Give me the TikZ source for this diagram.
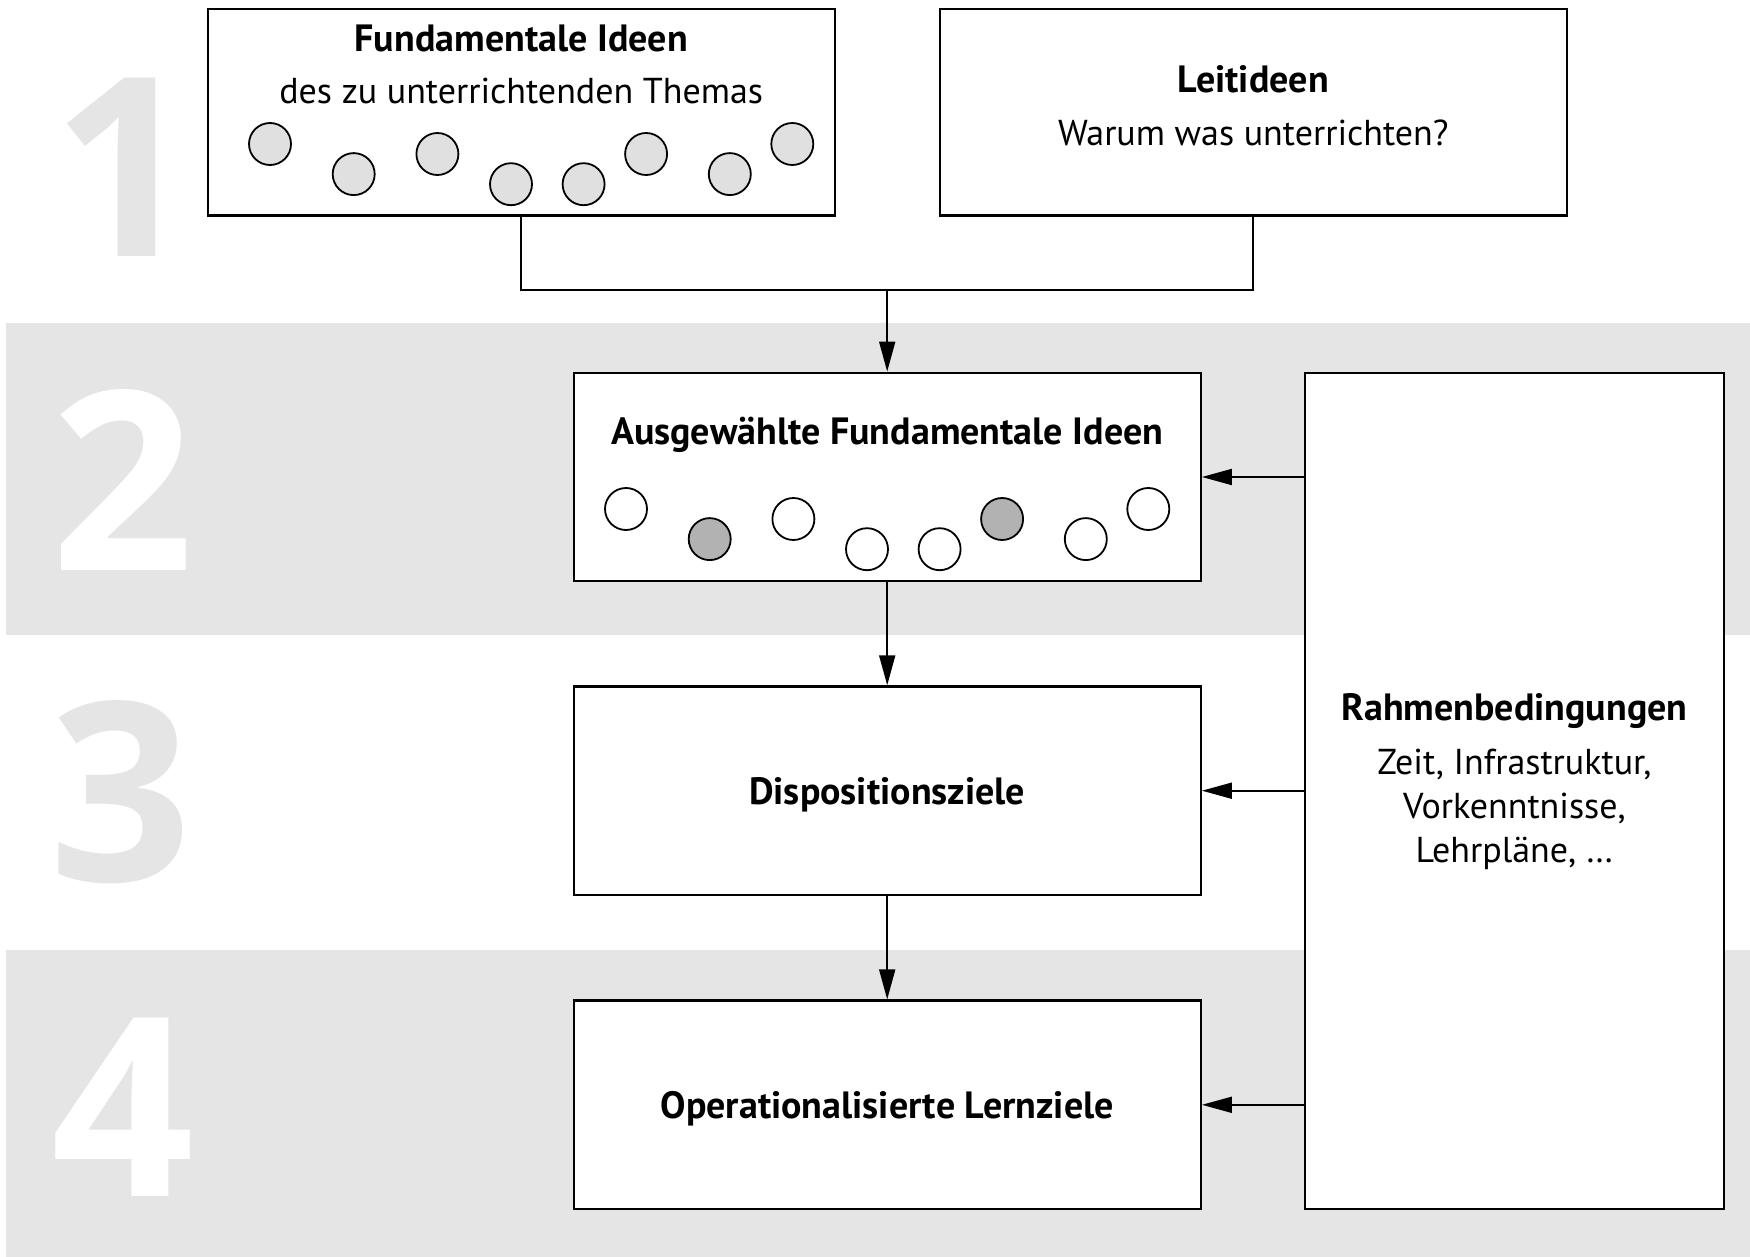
\documentclass[tikz,border=0pt]{standalone}
\usepackage{fontspec}
\setmainfont{PT Sans}
\newfontfamily\digitfont{Open Sans}
\usepackage{xcolor}
\usetikzlibrary{arrows.meta}

\definecolor{bandgrey}{HTML}{E5E5E5}
\definecolor{ideagrey}{HTML}{E0E0E0}
\definecolor{pickgrey}{HTML}{B2B2B2}

\tikzset{
  box/.style={draw, line width=1.1pt, fill=white, inner sep=0pt},
  idea/.style={circle, draw, line width=0.9pt, minimum size=21pt, inner sep=0pt},
  arr/.style={line width=0.9pt, -{Triangle[length=15pt,width=8pt]}},
  link/.style={line width=0.9pt},
  txt/.style={inner sep=0pt, anchor=mid, font=\fontsize{18}{22}\selectfont},
  boldtxt/.style={inner sep=0pt, anchor=mid, font=\fontsize{19}{22}\selectfont\bfseries},
  bigno/.style={inner sep=0pt, font=\digitfont\fontsize{125}{125}\selectfont\bfseries},
}

\begin{document}
\begin{tikzpicture}[x=0.5pt,y=0.5pt,yscale=-1,xscale=1]
        \useasboundingbox (0,0) rectangle (1750,1257);

        %Shape: Bands
        \fill [bandgrey] (5.6,322.5) rectangle (1750,635);
        \fill [bandgrey] (5.6,950) rectangle (1750,1257);

        % Step numbers
        \node [bigno, text=bandgrey] (no1) at (124,167) {1};
        \node [bigno, text=white] (no2) at (122.6,480) {2};
        \node [bigno, text=bandgrey] (no3) at (120.5,792) {3};
        \node [bigno, text=white] (no4) at (122.6,1107) {4};

        %Shape: Boxes
        \node [box, minimum width=313.6pt, minimum height=103.3pt] (fi) at (521.2,112.2) {};
        \node [box, minimum width=313.6pt, minimum height=103.3pt] (leit) at (1253.3,112.2) {};
        \node [box, minimum width=313.6pt, minimum height=104.3pt] (aus) at (887.2,477) {};
        \node [box, minimum width=313.6pt, minimum height=104.3pt] (disp) at (887.2,790.7) {};
        \node [box, minimum width=313.6pt, minimum height=104.3pt] (oper) at (887.2,1104.8) {};
        \node [box, minimum width=209.8pt, minimum height=418pt] (rahmen) at (1514.4,790.7) {};

        % Text Node
        \node [boldtxt] (fi-title) at (521.2,47) {Fundamentale Ideen};
        % Text Node
        \node [txt] (fi-sub) at (521.2,99) {des zu unterrichtenden Themas};
        % Text Node
        \node [boldtxt] (leit-title) at (1253.3,88) {Leitideen};
        % Text Node
        \node [txt] (leit-sub) at (1253.3,141) {Warum was unterrichten?};
        % Text Node
        \node [boldtxt] (aus-title) at (887.2,439) {Ausgewählte Fundamentale Ideen};
        % Text Node
        \node [boldtxt] (disp-title) at (887.2,799) {Dispositionsziele};
        % Text Node
        \node [boldtxt] (oper-title) at (887.2,1113) {Operationalisierte Lernziele};
        % Text Node
        \node [boldtxt] (rahmen-title) at (1514.4,715.6) {Rahmenbedingungen};
        % Text Node
        \node [txt, anchor=center, align=center] (rahmen-sub) at (1514.4,809) {Zeit, Infrastruktur,\\Vorkenntnisse,\\Lehrpläne, …};

        %Shape: Circles
        \foreach \dx/\dy [count=\i] in {0/0,83.7/30.1,167.4/10,241/40.2,313.6/40.2,376.1/10,459.8/30.1,522.3/0}
          \node [idea, fill=ideagrey] (fi-c\i) at (270+\dx,144+\dy) {};
        \foreach \dx/\dy/\col [count=\i] in {0/0/white,83.7/30.1/pickgrey,167.4/10/white,241/40.2/white,313.6/40.2/white,376.1/10/pickgrey,459.8/30.1/white,522.3/0/white}
          \node [idea, fill=\col] (aus-c\i) at (626+\dx,509+\dy) {};

        %Straight Lines
        \coordinate (join) at (887.2,290);
        \draw [link] (fi.south) |- (join) -| (leit.south);
        \draw [arr] (join) -- (aus.north);
        \draw [arr] (aus.south) -- (disp.north);
        \draw [arr] (disp.south) -- (oper.north);
        \draw [arr] (rahmen.west |- aus.east) -- (aus.east);
        \draw [arr] (rahmen.west |- disp.east) -- (disp.east);
        \draw [arr] (rahmen.west |- oper.east) -- (oper.east);

\end{tikzpicture}
\end{document}
